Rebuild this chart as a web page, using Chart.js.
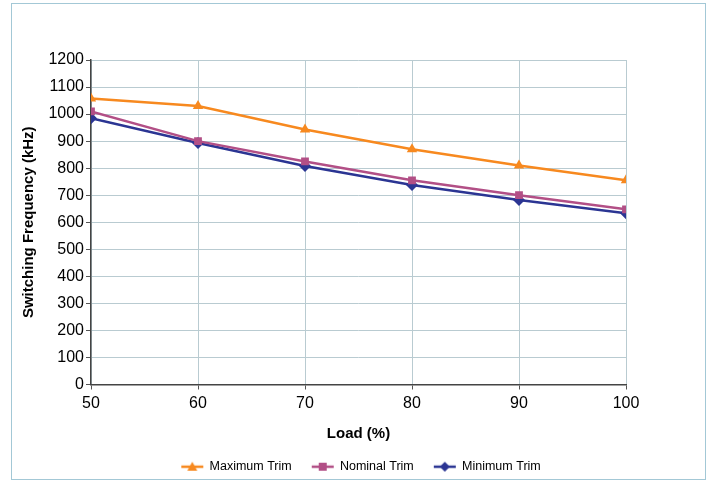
<!DOCTYPE html>
<html>
<head>
<meta charset="utf-8">
<script src="https://cdn.jsdelivr.net/npm/chart.js@4/dist/chart.umd.min.js"></script>
<style>
  html, body { margin: 0; padding: 0; background: #fff; }
  #wrap { position: relative; width: 709px; height: 481px; }
  #frame { position: absolute; left: 11px; top: 3px; width: 693px; height: 475px; border: 1px solid #a3c8d6; }
  canvas { position: absolute; left: 0; top: 0; }
</style>
</head>
<body>
<div id="wrap">
  <div id="frame"></div>
  <canvas id="freqChart" width="709" height="481"></canvas>
</div>
<script>
// Switching frequency vs load
const loads = [50, 60, 70, 80, 90, 100];
const maxTrim = [1058, 1030, 943, 870, 810, 755];
const nomTrim = [1010, 900, 825, 755, 700, 648];
const minTrim = [985, 893, 808, 738, 682, 633];
const yTicks = [0, 100, 200, 300, 400, 500, 600, 700, 800, 900, 1000, 1100, 1200];

const ORANGE = '#f7891f';
const PLUM = '#b24f86';
const NAVY = '#2b3593';

// legend swatch: short line with the marker in the middle
function swatch(color, shape) {
  const c = document.createElement('canvas');
  c.width = 24; c.height = 12;
  const g = c.getContext('2d');
  g.strokeStyle = color; g.fillStyle = color; g.lineWidth = 2.5;
  g.beginPath(); g.moveTo(1, 6); g.lineTo(23, 6); g.stroke();
  g.beginPath();
  if (shape === 'tri') { g.moveTo(12, 1); g.lineTo(17, 10); g.lineTo(7, 10); }
  else if (shape === 'rect') { g.rect(8, 2, 8, 8); }
  else { g.moveTo(12, 1); g.lineTo(17, 6); g.lineTo(12, 11); g.lineTo(7, 6); }
  g.closePath(); g.fill();
  return c;
}

function pts(vals) {
  return loads.map((x, i) => ({ x: x, y: vals[i] }));
}

function series(label, vals, color, style, radius, shape) {
  return {
    label: label,
    data: pts(vals),
    borderColor: color,
    backgroundColor: color,
    borderWidth: 2.5,
    pointStyle: style,
    pointRadius: radius,
    pointHoverRadius: radius,
    pointBorderWidth: 0,
    legendSwatch: swatch(color, shape)
  };
}

// centre the legend on the framed box rather than the plot
const legendShift = {
  id: 'legendShift',
  afterLayout(chart) {
    chart.legend.left += 40;
    chart.legend.right += 40;
  }
};

const ctx = document.getElementById('freqChart').getContext('2d');
new Chart(ctx, {
  type: 'line',
  data: {
    datasets: [
      series('Maximum Trim', maxTrim, ORANGE, 'triangle', 6, 'tri'),
      series('Nominal Trim', nomTrim, PLUM, 'rect', 5.5, 'rect'),
      series('Minimum Trim', minTrim, NAVY, 'rectRot', 6, 'dia')
    ]
  },
  plugins: [legendShift],
  options: {
    responsive: false,
    animation: false,
    layout: { padding: { top: 60, right: 83, bottom: -2, left: 16 } },
    plugins: {
      tooltip: { enabled: false },
      legend: {
        position: 'bottom',
        labels: {
          usePointStyle: true,
          pointStyleWidth: 22,
          boxWidth: 22,
          boxHeight: 12,
          padding: 20,
          color: '#000',
          font: { family: 'Arial, "Liberation Sans"', size: 12.5 },
          generateLabels: chart => chart.data.datasets.map((ds, i) => ({
            text: ds.label,
            pointStyle: ds.legendSwatch,
            fillStyle: ds.borderColor,
            strokeStyle: ds.borderColor,
            lineWidth: 0,
            datasetIndex: i
          }))
        }
      }
    },
    scales: {
      x: {
        type: 'linear',
        min: 50,
        max: 100,
        afterBuildTicks: axis => { axis.ticks = loads.map(v => ({ value: v })); },
        afterFit: axis => { axis.height = 56; },
        grid: { color: '#b9cbd1', lineWidth: 1, tickColor: '#555', tickLength: 5 },
        border: { color: '#444', width: 1.5 },
        ticks: { color: '#000', font: { family: 'Arial, "Liberation Sans"', size: 16 }, padding: 4 },
        title: {
          display: true,
          text: 'Load (%)',
          color: '#000',
          font: { family: 'Arial, "Liberation Sans"', size: 15, weight: 'bold' },
          padding: { top: 4, bottom: -2 }
        }
      },
      y: {
        min: 0,
        max: 1200,
        afterBuildTicks: axis => { axis.ticks = yTicks.map(v => ({ value: v })); },
        afterFit: axis => { axis.width = 75; },
        grid: { color: '#b9cbd1', lineWidth: 1, tickColor: '#555', tickLength: 5 },
        border: { color: '#444', width: 1.5 },
        ticks: {
          color: '#000',
          font: { family: 'Arial, "Liberation Sans"', size: 16 },
          padding: 2,
          callback: v => String(v)
        },
        title: {
          display: true,
          text: 'Switching Frequency (kHz)',
          color: '#000',
          font: { family: 'Arial, "Liberation Sans"', size: 15, weight: 'bold' },
          padding: { bottom: 2 }
        }
      }
    }
  }
});
</script>
</body>
</html>
